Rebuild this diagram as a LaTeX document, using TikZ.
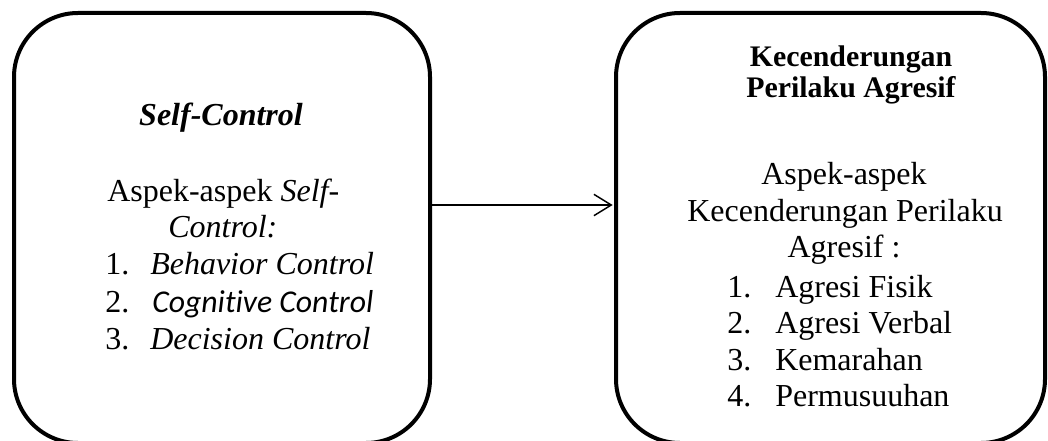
\documentclass[tikz,border=0pt]{standalone}
\usepackage{fontspec}
\setmainfont{Liberation Serif}
\newfontfamily\calibrilike[Ligatures=NoCommon]{Carlito}
\usetikzlibrary{arrows.meta}
\tikzset{
  bigbox/.style={draw, line width=3pt, rounded corners=48pt, inner sep=0pt, minimum width=312pt, minimum height=322.5pt},
  body/.style={inner sep=0pt, font=\fontsize{24}{27.6}\selectfont},
  head/.style={inner sep=0pt, font=\fontsize{22.4}{25}\selectfont\bfseries},
  link/.style={line width=1.1pt, -{Straight Barb[length=13pt, width=16pt, line width=1.1pt]}}
}
\begin{document}
\begin{tikzpicture}[x=0.75pt, y=-0.75pt]
\useasboundingbox (0,0) rectangle (1048,441);
\clip (0,0) rectangle (1048,441);
% boxes
\node[bigbox, minimum width=312pt] (L) at (222,228) {};
\node[bigbox, minimum width=321.75pt] (R) at (830.5,228) {};
% left texts
\node[body, anchor=base, font=\fontsize{24}{27.6}\selectfont\bfseries\itshape] (lt) at (221,126) {Self-Control};
\node[body, anchor=base west] (l1) at (107,202) {Aspek-aspek \textit{Self-}};
\node[body, anchor=base west] (l2) at (168,238) {\textit{Control:}};
\node[body, anchor=base west] (n1) at (105,275) {1.};
\node[body, anchor=base west] (i1) at (150,275) {\textit{Behavior Control}};
\node[body, anchor=base west] (n2) at (105,312) {2.};
\node[body, anchor=base west, font=\fontsize{23.8}{27}\selectfont\calibrilike\itshape] (i2) at (152,312) {Cognitive Control};
\node[body, anchor=base west] (n3) at (105,349) {3.};
\node[body, anchor=base west] (i3) at (150,349) {\textit{Decision Control}};
% right texts
\node[head, anchor=base] (rh1) at (851,67) {Kecenderungan};
\node[head, anchor=base] (rh2) at (851,98) {Perilaku Agresif};
\node[body, anchor=base] (r1) at (844,185) {Aspek-aspek};
\node[body, anchor=base] (r2) at (845,222) {Kecenderungan Perilaku};
\node[body, anchor=base] (r3) at (844,258) {Agresif :};
\node[body, anchor=base west] (m1) at (727,297) {1.};
\node[body, anchor=base west] (j1) at (775,297) {Agresi Fisik};
\node[body, anchor=base west] (m2) at (727,333) {2.};
\node[body, anchor=base west] (j2) at (775,333) {Agresi Verbal};
\node[body, anchor=base west] (m3) at (727,370) {3.};
\node[body, anchor=base west] (j3) at (775,370) {Kemarahan};
\node[body, anchor=base west] (m4) at (727,406) {4.};
\node[body, anchor=base west] (j4) at (775,406) {Permusuuhan};
% arrow
\coordinate (ay) at (0,205);
\draw[link] (L.east |- ay) -- ([xshift=-1pt]R.west |- ay);
\end{tikzpicture}
\end{document}
